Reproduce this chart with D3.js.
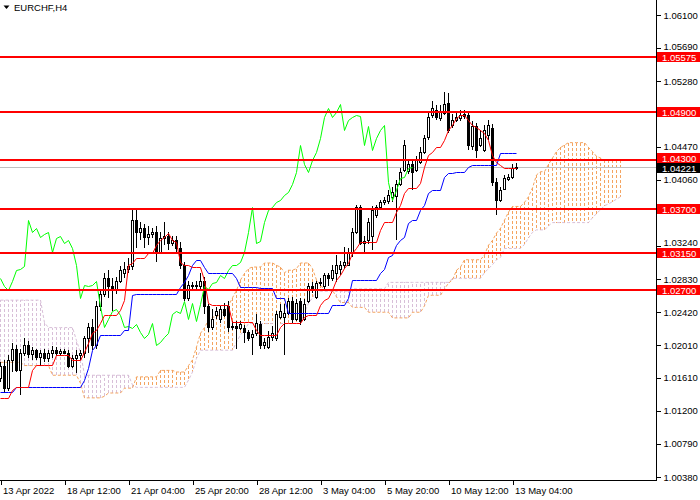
<!DOCTYPE html>
<html>
<head>
<meta charset="utf-8">
<script src="https://cdn.jsdelivr.net/npm/d3@7"></script>
<style>
  body { margin: 0; background: #fff; }
  svg { display: block; font-family: "Liberation Sans", Arial, sans-serif; }
</style>
</head>
<body>
<svg id="chart" width="700" height="500"></svg>
<script>
// EURCHF H4 with Ichimoku

const symbolTitle = 'EURCHF,H4';

const timeTickBars = [0, 16, 32, 48, 64, 80, 96, 112, 128];
const timeLabels = ['13 Apr 2022', '18 Apr 12:00', '21 Apr 04:00', '25 Apr 20:00', '28 Apr 12:00',
  '3 May 04:00', '5 May 20:00', '10 May 12:00', '13 May 04:00'];

const priceTicks = [1.06100, 1.05690, 1.05280, 1.04870, 1.04470, 1.04060, 1.03650, 1.03240,
  1.02830, 1.02420, 1.02010, 1.01610, 1.01200, 1.00790, 1.00380];

const levels = [1.05575, 1.04900, 1.04300, 1.03700, 1.03150, 1.02700];
const bidPrice = 1.04221;

const opens = [
  1.0161, 1.0175, 1.0148, 1.0183, 1.0197, 1.0170, 1.0192, 1.0202, 1.0190, 1.0195,
  1.0186, 1.0192, 1.0185, 1.0191, 1.0195, 1.0191, 1.0194, 1.0192, 1.0175, 1.0185,
  1.0189, 1.0192, 1.0210, 1.0224, 1.0201, 1.0250, 1.0265, 1.0285, 1.0275, 1.0269,
  1.0281, 1.0291, 1.0296, 1.0299, 1.0356, 1.0341, 1.0346, 1.0335, 1.0339, 1.0341,
  1.0316, 1.0334, 1.0336, 1.0328, 1.0331, 1.0321, 1.0300, 1.0260, 1.0276, 1.0274,
  1.0274, 1.0281, 1.0250, 1.0224, 1.0238, 1.0234, 1.0246, 1.0250, 1.0224, 1.0225,
  1.0223, 1.0222, 1.0217, 1.0211, 1.0216, 1.0228, 1.0201, 1.0199, 1.0211, 1.0210,
  1.0236, 1.0236, 1.0241, 1.0256, 1.0234, 1.0256, 1.0234, 1.0256, 1.0275, 1.0261,
  1.0278, 1.0274, 1.0288, 1.0285, 1.0291, 1.0296, 1.0301, 1.0301, 1.0316, 1.0341,
  1.0372, 1.0328, 1.0331, 1.0336, 1.0363, 1.0372, 1.0378, 1.0380, 1.0385, 1.0386,
  1.0401, 1.0418, 1.0417, 1.0425, 1.0418, 1.0428, 1.0441, 1.0459, 1.0486, 1.0493,
  1.0483, 1.0489, 1.0501, 1.0474, 1.0480, 1.0483, 1.0488, 1.0486, 1.0448, 1.0472,
  1.0449, 1.0443, 1.0462, 1.0470, 1.0403, 1.0381, 1.0395, 1.0407, 1.0410, 1.0421
];
const highs = [
  1.0180, 1.0183, 1.0189, 1.0204, 1.0201, 1.0197, 1.0210, 1.0207, 1.0199, 1.0197,
  1.0195, 1.0197, 1.0195, 1.0200, 1.0199, 1.0197, 1.0196, 1.0195, 1.0189, 1.0195,
  1.0195, 1.0213, 1.0229, 1.0234, 1.0256, 1.0271, 1.0291, 1.0294, 1.0284, 1.0286,
  1.0299, 1.0304, 1.0309, 1.0369, 1.0369, 1.0354, 1.0351, 1.0349, 1.0346, 1.0349,
  1.0341, 1.0354, 1.0341, 1.0336, 1.0336, 1.0329, 1.0304, 1.0281, 1.0280, 1.0281,
  1.0290, 1.0286, 1.0252, 1.0246, 1.0249, 1.0250, 1.0254, 1.0256, 1.0231, 1.0231,
  1.0231, 1.0226, 1.0220, 1.0220, 1.0240, 1.0231, 1.0210, 1.0219, 1.0225, 1.0244,
  1.0252, 1.0252, 1.0260, 1.0261, 1.0259, 1.0260, 1.0259, 1.0278, 1.0279, 1.0281,
  1.0284, 1.0291, 1.0290, 1.0300, 1.0313, 1.0306, 1.0323, 1.0321, 1.0346, 1.0375,
  1.0375, 1.0336, 1.0359, 1.0373, 1.0375, 1.0381, 1.0385, 1.0393, 1.0397, 1.0406,
  1.0421, 1.0455, 1.0431, 1.0431, 1.0436, 1.0446, 1.0462, 1.0490, 1.0503, 1.0499,
  1.0498, 1.0515, 1.0514, 1.0488, 1.0490, 1.0493, 1.0493, 1.0490, 1.0479, 1.0476,
  1.0468, 1.0474, 1.0480, 1.0475, 1.0408, 1.0397, 1.0412, 1.0413, 1.0425, 1.0427
];
const lows = [
  1.0156, 1.0142, 1.0145, 1.0168, 1.0168, 1.0139, 1.0188, 1.0185, 1.0183, 1.0183,
  1.0176, 1.0180, 1.0180, 1.0185, 1.0188, 1.0188, 1.0190, 1.0173, 1.0173, 1.0167,
  1.0183, 1.0185, 1.0192, 1.0195, 1.0197, 1.0244, 1.0261, 1.0260, 1.0244, 1.0265,
  1.0278, 1.0285, 1.0290, 1.0294, 1.0321, 1.0331, 1.0321, 1.0325, 1.0334, 1.0304,
  1.0314, 1.0325, 1.0319, 1.0324, 1.0316, 1.0296, 1.0256, 1.0256, 1.0269, 1.0270,
  1.0271, 1.0240, 1.0217, 1.0220, 1.0234, 1.0229, 1.0236, 1.0217, 1.0220, 1.0197,
  1.0220, 1.0204, 1.0207, 1.0189, 1.0212, 1.0197, 1.0197, 1.0196, 1.0207, 1.0207,
  1.0234, 1.0189, 1.0239, 1.0229, 1.0231, 1.0226, 1.0231, 1.0254, 1.0266, 1.0259,
  1.0275, 1.0271, 1.0275, 1.0281, 1.0279, 1.0288, 1.0296, 1.0299, 1.0311, 1.0339,
  1.0325, 1.0316, 1.0326, 1.0319, 1.0359, 1.0369, 1.0375, 1.0376, 1.0379, 1.0331,
  1.0398, 1.0416, 1.0413, 1.0393, 1.0416, 1.0426, 1.0438, 1.0455, 1.0483, 1.0480,
  1.0479, 1.0486, 1.0464, 1.0470, 1.0478, 1.0479, 1.0481, 1.0443, 1.0443, 1.0433,
  1.0447, 1.0441, 1.0455, 1.0398, 1.0363, 1.0378, 1.0393, 1.0405, 1.0407, 1.0418
];
const closes = [
  1.0175, 1.0148, 1.0183, 1.0197, 1.0170, 1.0192, 1.0202, 1.0190, 1.0195, 1.0186,
  1.0192, 1.0185, 1.0191, 1.0195, 1.0191, 1.0194, 1.0192, 1.0175, 1.0185, 1.0189,
  1.0192, 1.0210, 1.0224, 1.0201, 1.0250, 1.0265, 1.0285, 1.0275, 1.0269, 1.0281,
  1.0294, 1.0296, 1.0299, 1.0356, 1.0341, 1.0346, 1.0335, 1.0339, 1.0341, 1.0316,
  1.0334, 1.0336, 1.0328, 1.0331, 1.0321, 1.0300, 1.0260, 1.0276, 1.0274, 1.0276,
  1.0281, 1.0250, 1.0224, 1.0234, 1.0243, 1.0246, 1.0239, 1.0224, 1.0225, 1.0223,
  1.0228, 1.0217, 1.0210, 1.0215, 1.0229, 1.0201, 1.0205, 1.0211, 1.0216, 1.0240,
  1.0244, 1.0241, 1.0256, 1.0234, 1.0254, 1.0231, 1.0252, 1.0275, 1.0271, 1.0278,
  1.0280, 1.0288, 1.0284, 1.0294, 1.0300, 1.0300, 1.0304, 1.0316, 1.0341, 1.0372,
  1.0328, 1.0330, 1.0354, 1.0368, 1.0372, 1.0378, 1.0381, 1.0387, 1.0391, 1.0401,
  1.0416, 1.0449, 1.0426, 1.0416, 1.0431, 1.0441, 1.0458, 1.0484, 1.0495, 1.0484,
  1.0490, 1.0500, 1.0468, 1.0480, 1.0484, 1.0486, 1.0485, 1.0449, 1.0472, 1.0443,
  1.0458, 1.0468, 1.0474, 1.0403, 1.0381, 1.0393, 1.0408, 1.0410, 1.0421, 1.0422
];

// Tenkan-sen (red)
const tenkan = [
  1.0136, 1.0136, 1.0136, 1.0146, 1.0149, 1.0149, 1.0149, 1.0149, 1.0170, 1.0177,
  1.0177, 1.0177, 1.0177, 1.0177, 1.0189, 1.0189, 1.0189, 1.0189, 1.0183, 1.0183,
  1.0183, 1.0193, 1.0204, 1.0216, 1.0220, 1.0229, 1.0239, 1.0239, 1.0239, 1.0239,
  1.0245, 1.0257, 1.0301, 1.0303, 1.0309, 1.0309, 1.0309, 1.0315, 1.0315, 1.0325,
  1.0331, 1.0335, 1.0340, 1.0331, 1.0329, 1.0304, 1.0301, 1.0301, 1.0298, 1.0298,
  1.0298, 1.0282, 1.0253, 1.0251, 1.0251, 1.0251, 1.0251, 1.0251, 1.0230, 1.0230,
  1.0230, 1.0230, 1.0230, 1.0230, 1.0220, 1.0214, 1.0214, 1.0214, 1.0214, 1.0214,
  1.0224, 1.0229, 1.0229, 1.0229, 1.0229, 1.0229, 1.0236, 1.0239, 1.0239, 1.0239,
  1.0251, 1.0257, 1.0260, 1.0269, 1.0282, 1.0288, 1.0297, 1.0303, 1.0315, 1.0321,
  1.0329, 1.0329, 1.0329, 1.0329, 1.0329, 1.0344, 1.0354, 1.0354, 1.0354, 1.0366,
  1.0375, 1.0390, 1.0396, 1.0396, 1.0396, 1.0402, 1.0422, 1.0437, 1.0440, 1.0447,
  1.0447, 1.0455, 1.0468, 1.0474, 1.0483, 1.0486, 1.0486, 1.0480, 1.0474, 1.0471,
  1.0468, 1.0464, 1.0455, 1.0437, 1.0428, 1.0424, 1.0421, 1.0421, 1.0421, 1.0421
];

// Kijun-sen (blue)
const kijun = [
  1.0143, 1.0143, 1.0143, 1.0143, 1.0149, 1.0149, 1.0149, 1.0149, 1.0149, 1.0149,
  1.0149, 1.0149, 1.0149, 1.0149, 1.0149, 1.0149, 1.0149, 1.0149, 1.0149, 1.0149,
  1.0149, 1.0158, 1.0173, 1.0195, 1.0201, 1.0214, 1.0214, 1.0214, 1.0214, 1.0214,
  1.0214, 1.0220, 1.0220, 1.0263, 1.0265, 1.0265, 1.0265, 1.0265, 1.0265, 1.0265,
  1.0265, 1.0265, 1.0265, 1.0265, 1.0265, 1.0273, 1.0279, 1.0288, 1.0301, 1.0307,
  1.0307, 1.0298, 1.0291, 1.0291, 1.0291, 1.0291, 1.0291, 1.0291, 1.0291, 1.0284,
  1.0273, 1.0273, 1.0273, 1.0273, 1.0273, 1.0272, 1.0272, 1.0272, 1.0272, 1.0260,
  1.0260, 1.0260, 1.0241, 1.0241, 1.0241, 1.0241, 1.0241, 1.0241, 1.0241, 1.0241,
  1.0241, 1.0241, 1.0241, 1.0251, 1.0251, 1.0251, 1.0251, 1.0260, 1.0282, 1.0282,
  1.0282, 1.0282, 1.0282, 1.0282, 1.0282, 1.0291, 1.0296, 1.0310, 1.0313, 1.0325,
  1.0331, 1.0335, 1.0353, 1.0356, 1.0356, 1.0369, 1.0375, 1.0390, 1.0393, 1.0393,
  1.0393, 1.0409, 1.0414, 1.0414, 1.0416, 1.0416, 1.0416, 1.0422, 1.0424, 1.0424,
  1.0424, 1.0424, 1.0424, 1.0424, 1.0424, 1.0439, 1.0439, 1.0439, 1.0439, 1.0439
];

// Senkou span A (sandy brown) and B (thistle), already shifted 26 bars ahead
const spanA = [
  1.0180, 1.0180, 1.0180, 1.0180, 1.0180, 1.0180, 1.0176, 1.0176, 1.0176, 1.0176,
  1.0176, 1.0176, 1.0176, 1.0164, 1.0164, 1.0164, 1.0164, 1.0164, 1.0164, 1.0164,
  1.0154, 1.0136, 1.0136, 1.0136, 1.0136, 1.0136, 1.0138, 1.0142, 1.0142, 1.0142,
  1.0142, 1.0148, 1.0148, 1.0148, 1.0162, 1.0162, 1.0162, 1.0162, 1.0162, 1.0162,
  1.0170, 1.0170, 1.0170, 1.0170, 1.0168, 1.0168, 1.0168, 1.0176, 1.0183, 1.0199,
  1.0216, 1.0223, 1.0232, 1.0236, 1.0236, 1.0240, 1.0244, 1.0250, 1.0260, 1.0269,
  1.0282, 1.0290, 1.0296, 1.0298, 1.0298, 1.0298, 1.0303, 1.0303, 1.0303, 1.0300,
  1.0298, 1.0291, 1.0294, 1.0294, 1.0296, 1.0303, 1.0303, 1.0303, 1.0296, 1.0282,
  1.0276, 1.0269, 1.0269, 1.0269, 1.0261, 1.0254, 1.0254, 1.0254, 1.0248, 1.0248,
  1.0248, 1.0248, 1.0242, 1.0242, 1.0242, 1.0242, 1.0242, 1.0242, 1.0235, 1.0235,
  1.0235, 1.0235, 1.0235, 1.0242, 1.0242, 1.0242, 1.0250, 1.0263, 1.0263, 1.0263,
  1.0263, 1.0271, 1.0278, 1.0282, 1.0294, 1.0298, 1.0307, 1.0307, 1.0307, 1.0307,
  1.0307, 1.0313, 1.0325, 1.0331, 1.0340, 1.0346, 1.0356, 1.0366, 1.0373, 1.0373,
  1.0373, 1.0378, 1.0385, 1.0396, 1.0412, 1.0416, 1.0416, 1.0425, 1.0433, 1.0441,
  1.0446, 1.0449, 1.0452, 1.0452, 1.0452, 1.0452, 1.0452, 1.0446, 1.0441, 1.0435,
  1.0433, 1.0430, 1.0430, 1.0430, 1.0430, 1.0430
];
const spanB = [
  1.0257, 1.0257, 1.0257, 1.0257, 1.0257, 1.0257, 1.0257, 1.0257, 1.0257, 1.0257,
  1.0257, 1.0229, 1.0223, 1.0223, 1.0223, 1.0223, 1.0223, 1.0223, 1.0223, 1.0207,
  1.0192, 1.0164, 1.0164, 1.0164, 1.0164, 1.0164, 1.0164, 1.0164, 1.0164, 1.0164,
  1.0164, 1.0164, 1.0164, 1.0152, 1.0149, 1.0149, 1.0149, 1.0149, 1.0149, 1.0149,
  1.0149, 1.0149, 1.0149, 1.0149, 1.0149, 1.0149, 1.0149, 1.0158, 1.0168, 1.0185,
  1.0195, 1.0195, 1.0195, 1.0195, 1.0195, 1.0195, 1.0195, 1.0195, 1.0195, 1.0205,
  1.0214, 1.0220, 1.0228, 1.0228, 1.0228, 1.0228, 1.0228, 1.0228, 1.0228, 1.0228,
  1.0228, 1.0228, 1.0228, 1.0228, 1.0228, 1.0228, 1.0242, 1.0253, 1.0260, 1.0268,
  1.0268, 1.0268, 1.0268, 1.0268, 1.0268, 1.0268, 1.0268, 1.0268, 1.0271, 1.0271,
  1.0271, 1.0271, 1.0271, 1.0271, 1.0271, 1.0271, 1.0271, 1.0279, 1.0279, 1.0279,
  1.0279, 1.0279, 1.0279, 1.0279, 1.0279, 1.0279, 1.0279, 1.0279, 1.0279, 1.0279,
  1.0279, 1.0279, 1.0279, 1.0284, 1.0284, 1.0284, 1.0284, 1.0284, 1.0284, 1.0284,
  1.0284, 1.0291, 1.0296, 1.0301, 1.0307, 1.0310, 1.0321, 1.0321, 1.0321, 1.0321,
  1.0321, 1.0326, 1.0334, 1.0341, 1.0344, 1.0344, 1.0344, 1.0349, 1.0353, 1.0353,
  1.0353, 1.0353, 1.0353, 1.0353, 1.0353, 1.0353, 1.0353, 1.0353, 1.0359, 1.0364,
  1.0369, 1.0374, 1.0376, 1.0379, 1.0382, 1.0385
];

// chikou span = close drawn 26 bars back
const chikouShift = 26;

const width = 700, height = 500;
const plotW = 656, plotH = 480;
const priceMin = 1.00343, priceMax = 1.06286;

const svg = d3.select('#chart');

const x = d3.scaleLinear().domain([0, 129]).range([0, 516]);
const y = d3.scaleLinear().domain([priceMin, priceMax]).range([plotH, 0]);
const px = i => Math.round(x(i)) + 0.5;
const py = v => Math.round(y(v)) + 0.5;

svg.append('defs').append('clipPath').attr('id', 'plot-clip')
  .append('rect').attr('x', 0).attr('y', 0).attr('width', plotW).attr('height', plotH);

const plot = svg.append('g').attr('clip-path', 'url(#plot-clip)');

// ###
// CLOUD
// ###
const cloudBars = d3.range(spanA.length);
plot.append('g')
  .selectAll('line')
  .data(cloudBars)
  .join('line')
  .attr('x1', px).attr('x2', px)
  .attr('y1', i => y(spanA[i]))
  .attr('y2', i => y(spanB[i]))
  .attr('stroke', i => spanA[i] >= spanB[i] ? '#F4A460' : '#D8BFD8')
  .attr('stroke-dasharray', '3,2')
  .attr('shape-rendering', 'crispEdges');

const dotLine = d3.line().x((d, i) => px(i)).y(d => y(d));

plot.append('path').datum(spanB)
  .attr('d', dotLine).attr('fill', 'none')
  .attr('stroke', '#D8BFD8').attr('stroke-dasharray', '3,2');
plot.append('path').datum(spanA)
  .attr('d', dotLine).attr('fill', 'none')
  .attr('stroke', '#F4A460').attr('stroke-dasharray', '3,2');

// bid line
plot.append('line')
  .attr('x1', 0).attr('x2', plotW)
  .attr('y1', py(bidPrice)).attr('y2', py(bidPrice))
  .attr('stroke', '#C0C0C0')
  .attr('shape-rendering', 'crispEdges');

// ###
// CANDLES
// ###
const bars = d3.range(closes.length);
const candles = plot.append('g').attr('shape-rendering', 'crispEdges');

candles.selectAll('line')
  .data(bars)
  .join('line')
  .attr('x1', px).attr('x2', px)
  .attr('y1', i => Math.round(y(highs[i])))
  .attr('y2', i => Math.round(y(lows[i])))
  .attr('stroke', '#000');

candles.selectAll('rect')
  .data(bars)
  .join('rect')
  .attr('x', i => px(i) - 1)
  .attr('y', i => py(Math.max(opens[i], closes[i])))
  .attr('width', 2)
  .attr('height', i => Math.max(0, Math.round(y(Math.min(opens[i], closes[i]))) - Math.round(y(Math.max(opens[i], closes[i])))))
  .attr('fill', i => closes[i] >= opens[i] ? '#fff' : '#000')
  .attr('stroke', '#000');

// ###
// ICHIMOKU LINES
// ###
const idxLine = d3.line().x((d, i) => px(i)).y(d => py(d));

plot.append('path').datum(closes.slice(chikouShift))
  .attr('d', idxLine).attr('fill', 'none').attr('stroke', '#00FF00');
plot.append('path').datum(kijun)
  .attr('d', idxLine).attr('fill', 'none').attr('stroke', '#0000FF');
plot.append('path').datum(tenkan)
  .attr('d', idxLine).attr('fill', 'none').attr('stroke', '#FF0000');

// horizontal levels
plot.append('g')
  .selectAll('line')
  .data(levels)
  .join('line')
  .attr('x1', 0).attr('x2', plotW)
  .attr('y1', d => Math.round(y(d))).attr('y2', d => Math.round(y(d)))
  .attr('stroke', '#FF0000')
  .attr('stroke-width', 2)
  .attr('shape-rendering', 'crispEdges');

// ###
// AXES
// ###
const tagH = 10;
const bidTop = Math.round(y(bidPrice)) - 4;

// where a level tag goes: centred on its price, pushed up if it would sit on the bid tag
const tagTop = d => {
  let top = Math.round(y(d)) - 5;
  if (top + tagH > bidTop && top < bidTop + tagH) top = bidTop - tagH;
  return top;
};
const tagBoxes = levels.map(tagTop).concat([bidTop]);

// tick labels right under a tag are hidden by it, as in the reference;
// ones only grazing a tag are nudged off it
const labelHalf = 5.5;
const covered = v => tagBoxes.some(t => Math.abs(y(v) - (t + tagH / 2)) < 5);
const nudge = v => {
  const c = y(v);
  let dy = 0;
  tagBoxes.forEach(t => {
    const mid = t + tagH / 2;
    if (Math.abs(c - mid) < 5) return;
    if (c < mid && c + labelHalf > t) dy = t - (c + labelHalf);
    if (c > mid && c - labelHalf < t + tagH) dy = t + tagH - (c - labelHalf);
  });
  return dy;
};

const yAxis = d3.axisRight(y)
  .tickValues(priceTicks)
  .tickFormat(d => covered(d) ? '' : d3.format('.5f')(d))
  .tickSize(4)
  .tickSizeOuter(0)
  .tickPadding(3);

const yAxisG = svg.append('g')
  .attr('transform', `translate(${plotW + 0.5},0)`)
  .call(yAxis);
yAxisG.select('.domain').remove();
yAxisG.selectAll('.tick text')
  .attr('y', d => nudge(d))
  .attr('font-family', '"Liberation Sans", Arial, sans-serif')
  .attr('font-size', 9.5)
  .attr('fill', '#000');
yAxisG.selectAll('line').attr('stroke', '#000').attr('shape-rendering', 'crispEdges');
yAxisG.attr('font-family', null).attr('font-size', null);

const xAxis = d3.axisBottom(x)
  .tickValues(timeTickBars)
  .tickFormat((d, i) => timeLabels[i])
  .tickSize(4)
  .tickSizeOuter(0)
  .tickPadding(3);

const xAxisG = svg.append('g')
  .attr('transform', `translate(0.5,${plotH + 0.5})`)
  .call(xAxis);
xAxisG.select('.domain').remove();
xAxisG.selectAll('line').attr('stroke', '#000').attr('shape-rendering', 'crispEdges');
xAxisG.selectAll('text')
  .attr('text-anchor', 'start')
  .attr('x', 2)
  .attr('font-family', '"Liberation Sans", Arial, sans-serif')
  .attr('font-size', 9.5)
  .attr('fill', '#000');
xAxisG.attr('font-family', null).attr('font-size', null);

// frame
svg.append('line')
  .attr('x1', plotW + 0.5).attr('x2', plotW + 0.5)
  .attr('y1', 0).attr('y2', plotH + 1)
  .attr('stroke', '#000').attr('shape-rendering', 'crispEdges');
svg.append('line')
  .attr('x1', 0).attr('x2', plotW + 1)
  .attr('y1', plotH + 0.5).attr('y2', plotH + 0.5)
  .attr('stroke', '#000').attr('shape-rendering', 'crispEdges');

// price tags on the axis
const tags = svg.append('g');

tags.append('rect')
  .attr('x', plotW + 1).attr('y', bidTop)
  .attr('width', width - plotW).attr('height', tagH)
  .attr('fill', '#000');
tags.append('text')
  .attr('x', plotW + 6).attr('y', bidTop + tagH / 2 + 0.5)
  .attr('dominant-baseline', 'central')
  .attr('font-size', 9.5)
  .attr('fill', '#fff')
  .text(d3.format('.5f')(bidPrice));

const levelTags = tags.selectAll('g.level')
  .data(levels)
  .join('g')
  .attr('class', 'level');
levelTags.append('rect')
  .attr('x', plotW + 1).attr('y', tagTop)
  .attr('width', width - plotW).attr('height', tagH)
  .attr('fill', '#FF0000');
levelTags.append('text')
  .attr('x', plotW + 6).attr('y', d => tagTop(d) + tagH / 2 + 0.5)
  .attr('dominant-baseline', 'central')
  .attr('font-size', 9.5)
  .attr('fill', '#fff')
  .text(d => d3.format('.5f')(d));

// title
svg.append('path')
  .attr('d', 'M3.5,5.5 L9.5,5.5 L6.5,9 Z')
  .attr('fill', '#000');
svg.append('text')
  .attr('x', 14).attr('y', 11)
  .attr('font-size', 9.5)
  .attr('fill', '#000')
  .text(symbolTitle);
</script>
</body>
</html>
